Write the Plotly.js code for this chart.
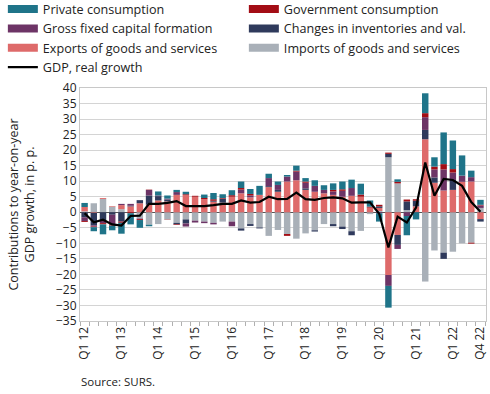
<!DOCTYPE html>
<html><head><meta charset="utf-8">
<script src="https://cdn.plot.ly/plotly-3.0.1.min.js"></script>
<style>html,body{margin:0;padding:0;background:#fff}#chart{width:490px;height:394px}</style>
</head><body><div id="chart"></div>
<script>
const quarters = ["Q1 12","Q2 12","Q3 12","Q4 12","Q1 13","Q2 13","Q3 13","Q4 13","Q1 14","Q2 14","Q3 14","Q4 14",
"Q1 15","Q2 15","Q3 15","Q4 15","Q1 16","Q2 16","Q3 16","Q4 16","Q1 17","Q2 17","Q3 17","Q4 17",
"Q1 18","Q2 18","Q3 18","Q4 18","Q1 19","Q2 19","Q3 19","Q4 19","Q1 20","Q2 20","Q3 20","Q4 20",
"Q1 21","Q2 21","Q3 21","Q4 21","Q1 22","Q2 22","Q3 22","Q4 22"];
const tickLabels = ["Q1 12","Q1 13","Q1 14","Q1 15","Q1 16","Q1 17","Q1 18","Q1 19","Q1 20","Q1 21","Q1 22","Q4 22"];

const privateCons = [1.3,-1.3,-3.2,-1.5,-3.5,-3.6,-2.5,-0.5,1.3,1.0,0.7,0.8,0.0,1.1,2.0,1.2,1.6,2.1,1.6,2.9,1.4,1.1,0.5,1.6,1.1,1.8,1.5,2.1,2.5,2.7,3.5,2.0,-2.7,-7.0,0.8,-6.2,-2.3,6.4,3.0,10.2,9.2,6.5,2.1,1.6];
const govCons     = [-0.3,-0.2,-0.4,-0.3,-0.4,-0.3,-0.3,0.1,0.0,-0.1,-0.2,0.3,0.3,0.4,0.5,0.2,0.5,0.5,0.5,0.0,0.0,0.0,-0.6,0.3,0.4,0.0,0.0,0.5,0.5,0.0,0.7,0.3,0.5,0.4,0.5,0.6,0.5,1.3,0.9,1.7,1.1,0.0,-0.3,0.2];
const gfcf        = [-1.2,-0.4,-1.0,-3.2,0.4,0.6,-0.2,1.8,0.2,0.3,0.9,-1.0,-0.6,-0.5,-0.5,0.0,-1.5,1.2,0.6,0.0,2.6,1.6,1.6,2.8,1.8,1.9,1.1,1.1,1.9,2.5,0.0,0.0,-0.3,-3.5,-1.3,-1.2,0.0,4.1,2.6,6.8,2.4,2.0,1.4,0.8];
const inventories = [-1.6,-4.0,-2.5,-0.8,-3.0,0.2,1.0,3.0,1.4,0.6,-0.5,-1.3,0.0,0.0,0.3,1.3,0.0,-0.7,-0.6,-0.3,0.3,0.6,0.0,0.0,0.5,-0.4,0.0,-0.7,-0.8,-1.3,0.0,0.0,0.5,1.1,-3.2,2.8,1.8,3.0,1.7,-2.0,3.2,0.0,0.0,-0.8];
const exportsGS   = [1.4,-0.2,0.3,0.2,1.3,1.9,2.9,2.4,3.8,3.5,5.6,5.5,5.0,4.2,3.4,3.1,5.0,6.1,4.8,5.6,8.1,6.6,9.9,10.3,7.2,6.6,6.1,5.6,5.0,5.3,5.0,1.5,1.0,-20.2,-7.3,0.0,1.9,23.5,9.5,7.0,7.2,9.8,9.9,-2.2];
const importsGS   = [0.3,2.9,4.3,1.8,1.0,0.0,-2.0,-4.0,-3.8,-2.3,-3.4,-2.3,-2.7,-3.0,-3.4,-3.0,-3.0,-5.2,-3.8,-4.9,-7.6,-5.7,-7.0,-8.5,-6.8,-5.8,-3.8,-3.8,-4.6,-6.1,-6.0,-0.6,0.4,17.7,9.3,0.7,0.0,-22.3,-12.3,-13.0,-12.7,-10.0,-9.8,1.4];
const gdpGrowth   = [-0.3,-3.2,-2.4,-3.9,-4.3,-1.2,-1.1,2.7,2.7,3.0,3.6,2.0,2.0,2.0,2.3,2.7,2.7,3.8,3.1,3.3,5.0,4.2,4.3,6.3,4.2,4.0,4.6,4.8,4.5,3.1,3.2,3.2,-0.5,-11.3,-1.4,-3.3,1.5,16.0,5.3,10.7,10.4,8.5,3.3,0.2];

const xIdx = quarters.map((q,i)=>i);
const tickIdx = tickLabels.map(t=>quarters.indexOf(t));

const series = [
  {name:"Imports of goods and services", y:importsGS, color:"#a9b0b8", rank:6},
  {name:"Exports of goods and services", y:exportsGS, color:"#de6a6a", rank:5},
  {name:"Changes in inventories and val.", y:inventories, color:"#2f3a5c", rank:4},
  {name:"Gross fixed capital formation", y:gfcf, color:"#6d3466", rank:3},
  {name:"Government consumption", y:govCons, color:"#a30d15", rank:2},
  {name:"Private consumption", y:privateCons, color:"#1f7489", rank:1}
];

const traces = [];
series.forEach(s=>{
  traces.push({type:"bar", x:xIdx, y:s.y, name:s.name, marker:{color:s.color, line:{width:0}},
    width:0.7, showlegend:false, legendgroup:s.name, hoverinfo:"skip"});
});
series.forEach(s=>{
  traces.push({type:"scatter", mode:"lines", x:[null], y:[null], name:s.name, legendgroup:s.name,
    line:{color:s.color, width:8}, legendrank:s.rank, showlegend:true});
});
traces.push({type:"scatter", mode:"lines", x:xIdx, y:gdpGrowth, name:"GDP, real growth",
  line:{color:"#000", width:2.2}, legendrank:7});

const font = "Open Sans, Noto Sans, sans-serif";
const layout = {
  width:490, height:394,
  margin:{l:80, r:4, t:88, b:73, autoexpand:false},
  paper_bgcolor:"#fff", plot_bgcolor:"#fff",
  barmode:"relative", bargap:0.3,
  font:{family:font, size:12, color:"#222"},
  showlegend:true,
  legend:{orientation:"h", x:-0.19, xanchor:"left", y:1.402, yanchor:"top",
    entrywidth:196, entrywidthmode:"pixels", traceorder:"normal",
    font:{family:font, size:12.6, color:"#222"}, itemwidth:30, tracegroupgap:0,
    bgcolor:"rgba(0,0,0,0)"},
  xaxis:{range:[-0.5,43.6], tickmode:"array", tickvals:tickIdx, ticktext:tickLabels,
    tickangle:-90, ticks:"", showgrid:false, zeroline:false,
    showline:true, linecolor:"#c8c8c8", linewidth:1, mirror:true,
    tickfont:{family:font, size:12, color:"#222"},
    minor:{tick0:-0.5, dtick:1, ticks:"outside", ticklen:4, tickcolor:"#b0b0b0", showgrid:false}},
  yaxis:{range:[-35,40], dtick:5, tick0:0, showgrid:true, gridcolor:"#d4d4d4", gridwidth:1,
    zeroline:true, zerolinecolor:"#555", zerolinewidth:1.5,
    showline:true, linecolor:"#c8c8c8", mirror:true, ticks:"",
    tickfont:{family:font, size:12, color:"#222"},
    title:{text:"Contributions to year-on-year<br>GDP growth, in p. p.", standoff:18,
      font:{family:font, size:12.5, color:"#222"}}},
  annotations:[{text:"Source: SURS.", xref:"paper", yref:"paper", x:-0.003, y:-0.258,
    xanchor:"left", yanchor:"middle", showarrow:false, font:{family:font, size:11.5, color:"#222"}}]
};
Plotly.newPlot("chart", traces, layout, {displayModeBar:false, staticPlot:true});
</script>
</body></html>
